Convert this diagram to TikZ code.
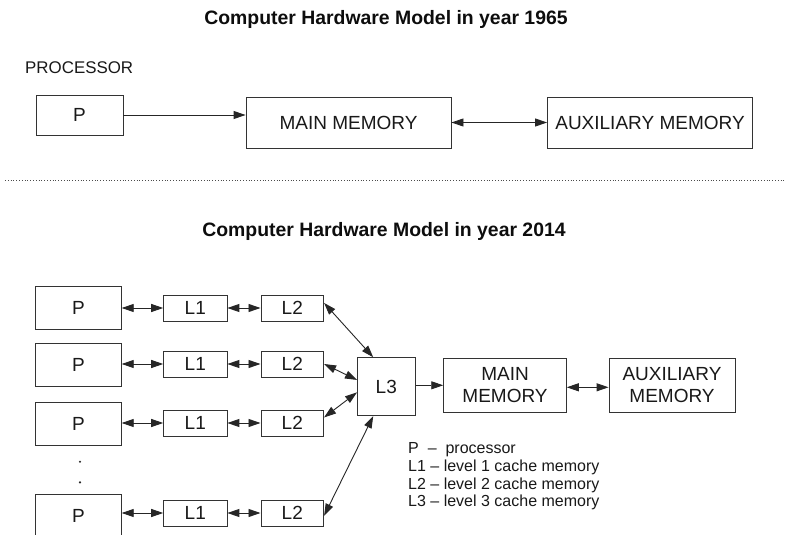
\documentclass[tikz,border=0pt]{standalone}
\usepackage{fontspec}
\setmainfont{Liberation Sans}
\usetikzlibrary{arrows.meta}
\begin{document}
\begin{tikzpicture}[x=1pt,y=-1pt,
  >={Triangle[length=12pt,width=8pt]},
  box/.style={draw=black!80, line width=0.9pt, inner sep=0pt, text=black!90, font=\fontsize{19}{21.5}\selectfont, align=center},
  conn/.style={draw=black!85, line width=0.9pt},
  legendtext/.style={anchor=base west, inner sep=0pt, text=black!90, font=\fontsize{16}{18}\selectfont},
  titletext/.style={font=\bfseries\fontsize{19.4}{22}\selectfont, inner sep=0pt, text=black!95},
  dotmark/.style={circle, fill=black!85, inner sep=0pt, minimum size=2.4pt}]
\useasboundingbox (0,0) rectangle (785,535);
\fill[white] (0,0) rectangle (785,535);

% ---------- 1965 ----------
\node[titletext] (t1) at (386,19.5) {Computer Hardware Model in year 1965};
\node[legendtext, font=\fontsize{16.9}{19}\selectfont] (proc) at (25,73.3) {PROCESSOR};
\node[box, minimum width=87pt, minimum height=40pt] (P0) at (79.5,115) {P};
\node[box, minimum width=205pt, minimum height=51pt] (MM0) at (348.5,122.5) {MAIN MEMORY};
\node[box, minimum width=205pt, minimum height=51pt] (AUX0) at (650,122.5) {AUXILIARY MEMORY};
\draw[conn,->] (P0.east) -- (P0.east -| MM0.west);
\draw[conn,<->] (MM0) -- (AUX0);

\draw[black!70, line width=0.8pt, dotted] (5,180) -- (785,180);

% ---------- 2014 ----------
\node[titletext] (t2) at (384,231) {Computer Hardware Model in year 2014};

\foreach \n/\py/\ly in {a/308/308, b/365/364, c/424/423, d/516/513}{
  \node[box, minimum width=85.5pt, minimum height=43.5pt] (P\n) at (78.5,\py) {P};
  \node[box, minimum width=63.3pt, minimum height=26pt] (La\n) at (195.3,\ly) {L1};
  \node[box, minimum width=62.7pt, minimum height=26pt] (Lb\n) at (292.3,\ly) {L2};
  \draw[conn,<->] (La\n.west -| P\n.east) -- (La\n.west);
  \draw[conn,<->] (La\n.east) -- (Lb\n.west);
}

\node[dotmark] (d1) at (80,461.7) {};
\node[dotmark] (d2) at (80,482.3) {};

\node[box, minimum width=57.7pt, minimum height=58pt] (L3) at (386.3,386.7) {L3};
\node[box, minimum width=122.6pt, minimum height=54pt] (MM) at (505,385.3) {MAIN\\MEMORY};
\node[box, minimum width=126pt, minimum height=54pt] (AUX) at (672,385.3) {AUXILIARY\\MEMORY};

\draw[conn,<->] (Lba.9) -- (L3.114);
\draw[conn,<->] (Lbb.east) -- (L3.167);
\draw[conn,<->] (Lbc.10) -- (L3.191);
\draw[conn,<->] (Lbd.-5) -- (L3.246);
\draw[conn,->] (L3.east |- MM.west) -- (MM.west);
\draw[conn,<->] ([yshift=-2pt]MM.east) -- ([yshift=-2pt]AUX.west);

\node[legendtext] (g1) at (408,453.4) {P\ \ –\ \ processor};
\node[legendtext] (g2) at (408,471.6) {L1 – level 1 cache memory};
\node[legendtext] (g3) at (408,489.6) {L2 – level 2 cache memory};
\node[legendtext] (g4) at (408,506.8) {L3 – level 3 cache memory};
\end{tikzpicture}
\end{document}
